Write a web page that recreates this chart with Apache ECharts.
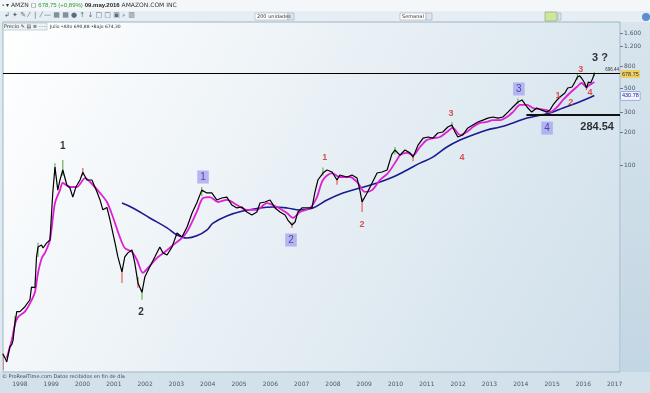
<!DOCTYPE html>
<html><head><meta charset="utf-8">
<script src="https://cdn.jsdelivr.net/npm/echarts@6/dist/echarts.min.js"></script>
<style>html,body{margin:0;padding:0;background:#fff;}#c{width:650px;height:393px;}</style>
</head><body><div id="c"></div>
<script>
// ---------- data (time in decimal years, price in USD) ----------
const yearTicks = [1998,1999,2000,2001,2002,2003,2004,2005,2006,2007,2008,2009,2010,2011,2012,2013,2014,2015,2016,2017];
const priceTicks = [100,200,300,500,800,1200,1600];

const weeklyClose = [
 [1997.45,1.9],[1997.52,1.75],[1997.58,1.6],[1997.68,2.2],[1997.74,2.3],[1997.78,2.5],[1997.84,3.6],[1997.90,4.6],
 [1998.00,4.6],[1998.16,5.1],[1998.32,5.9],[1998.37,7.7],[1998.48,7.6],[1998.53,14.5],[1998.58,17.9],[1998.69,18.6],
 [1998.74,17.5],[1998.85,19.4],[1998.96,20.7],[1999.05,55.6],[1999.12,96],[1999.21,59],[1999.28,73],[1999.37,90],
 [1999.50,65.7],[1999.60,61.7],[1999.69,51],[1999.79,63],[1999.92,73],[2000.01,86],[2000.14,73],[2000.30,73],
 [2000.46,57],[2000.56,48],[2000.65,39],[2000.78,41],[2000.88,31.5],[2001.04,19.4],[2001.13,14.5],[2001.26,10.6],
 [2001.35,14.5],[2001.45,15.8],[2001.58,16.8],[2001.67,12.8],[2001.77,8.4],[2001.90,6.9],[2001.99,9.5],[2002.15,11.8],
 [2002.31,14.5],[2002.47,17.9],[2002.57,15.8],[2002.70,15.1],[2002.86,17.9],[2003.02,24],[2003.18,22.1],[2003.34,27.2],
 [2003.50,36.5],[2003.65,45],[2003.81,59],[2003.97,55.6],[2004.13,55.6],[2004.29,48],[2004.45,50],[2004.61,51],
 [2004.77,43.2],[2004.93,40.6],[2005.09,41.4],[2005.25,37.3],[2005.41,35],[2005.57,37.3],[2005.67,45],[2005.83,46],
 [2005.99,48],[2006.15,40.6],[2006.31,37.3],[2006.47,35],[2006.56,31.5],[2006.69,28.4],[2006.79,30.2],[2006.88,37.3],
 [2007.01,40.6],[2007.17,40.6],[2007.33,40.6],[2007.42,55.6],[2007.52,73],[2007.68,84.5],[2007.81,90],[2007.97,86.3],
 [2008.13,73],[2008.22,81],[2008.45,77.7],[2008.61,81],[2008.77,76],[2008.86,59],[2008.93,46],[2009.09,55.6],
 [2009.25,68.5],[2009.41,84.5],[2009.57,86.3],[2009.73,90],[2009.88,125],[2009.98,137],[2010.14,123],[2010.30,137],
 [2010.46,129],[2010.56,118],[2010.72,152],[2010.88,176],[2011.04,180],[2011.19,176],[2011.35,196],[2011.51,200],
 [2011.67,222],[2011.80,232],[2011.90,200],[2011.99,180],[2012.15,188],[2012.31,218],[2012.47,232],[2012.63,247],
 [2012.79,257],[2012.95,268],[2013.11,274],[2013.27,268],[2013.43,274],[2013.59,304],[2013.75,338],[2013.91,376],
 [2014.04,392],[2014.20,338],[2014.35,304],[2014.51,331],[2014.67,317],[2014.84,304],[2014.93,317],[2015.03,353],
 [2015.16,392],[2015.25,417],[2015.41,454],[2015.50,504],[2015.64,515],[2015.73,572],[2015.81,635],[2015.88,650],
 [2015.94,622],[2016.04,560],[2016.10,504],[2016.16,572],[2016.23,560],[2016.29,609],[2016.35,678.75]
];

const shortAverage = [
 [1997.58,1.73],[1997.74,2.53],[1997.84,3.5],[1997.94,4.1],[1998.16,4.6],[1998.38,5.9],[1998.48,6.9],[1998.58,10.4],
 [1998.70,14.2],[1998.80,15.8],[1998.96,20.7],[1999.12,45],[1999.28,59],[1999.37,68.5],[1999.60,63],[1999.82,63],
 [2000.08,76],[2000.33,65.7],[2000.56,55.6],[2000.78,46],[2000.97,33.6],[2001.19,22.1],[2001.35,17.5],[2001.58,16.1],
 [2001.74,13.6],[2001.93,10.4],[2002.09,11.5],[2002.38,14.2],[2002.63,16.1],[2002.89,18.6],[2003.18,21.6],[2003.37,25.5],
 [2003.65,37.3],[2003.85,50],[2004.07,51],[2004.33,46],[2004.61,48],[2004.93,43.2],[2005.25,38.9],[2005.57,38.9],
 [2005.89,45],[2006.21,41.4],[2006.53,36.5],[2006.72,32.9],[2006.95,37.3],[2007.27,40.6],[2007.49,51],[2007.68,73],
 [2007.97,84.5],[2008.22,77.7],[2008.54,77.7],[2008.80,68.5],[2009.02,56.8],[2009.25,59],[2009.50,73],[2009.76,84.5],
 [2010.04,111],[2010.14,123],[2010.37,129],[2010.56,123],[2010.78,146],[2011.00,169],[2011.19,176],[2011.42,180],
 [2011.64,200],[2011.83,218],[2012.06,188],[2012.28,200],[2012.47,222],[2012.70,242],[2012.92,247],[2013.11,257],
 [2013.34,257],[2013.56,274],[2013.75,304],[2013.98,353],[2014.20,353],[2014.39,331],[2014.61,324],[2014.84,317],
 [2014.93,304],[2015.16,338],[2015.35,392],[2015.57,454],[2015.79,515],[2015.94,560],[2016.10,515],[2016.20,537],
 [2016.35,572]
];

const longAverage = [
 [2001.26,45],[2001.61,40.6],[2002.15,32.9],[2002.70,26.7],[2003.02,23],[2003.34,21.6],[2003.65,22.6],[2003.97,25.5],
 [2004.17,29.5],[2004.61,34.3],[2005.12,38],[2005.67,40.6],[2006.08,41.4],[2006.53,40.6],[2006.95,38.9],[2007.36,40.6],
 [2007.81,48],[2008.32,55.6],[2008.86,61.7],[2009.41,68.5],[2009.92,77.7],[2010.37,90],[2010.78,104],[2011.19,118],
 [2011.64,146],[2012.06,169],[2012.47,188],[2012.92,209],[2013.34,222],[2013.75,242],[2014.20,268],[2014.51,280],
 [2014.93,298],[2015.35,331],[2015.79,368],[2016.10,400],[2016.35,430.78]
];

// visible weekly high-low wicks: [time, low, high]
const upWicks = [
 [1997.84,3.3,4.2],[1998.58,14.5,19.5],[1999.12,80,104],[1999.37,80,111],[2001.90,5.9,7.4],[2003.81,52,63],
 [2007.68,80,95],[2009.98,125,146],[2011.80,215,246],[2013.91,360,405],[2015.81,600,690],[2016.35,650,700]
];
const downWicks = [
 [1997.46,1.35,1.9],[2000.01,80,94],[2001.26,8.4,11.5],[2001.77,7.6,9.5],[2006.69,26.7,30],[2008.93,37.3,50],
 [2008.13,66,76],[2010.56,108,122],[2014.84,285,310],[2016.10,482,520]
];

const lastClose = 678.75;
const lastLongAverage = 430.78;
const resistanceLevel = 696.44;
const supportLevel = 284.54;
const supportFrom = 2014.18;

const blackWaves = [[1999.37,149,'1'],[2001.87,4.5,'2']];
const boxWaves = [[2003.85,77.7,'1'],[2006.66,20.7,'2'],[2013.94,494,'3'],[2014.84,217,'4']];
const redWaves = [[2007.74,118,'1'],[2008.93,28.4,'2'],[2011.77,298,'3'],[2012.12,118,'4'],
                  [2015.19,426,'1'],[2015.60,368,'2'],[2015.92,750,'3'],[2016.21,454,'4']];
const notes = [[2016.53,944,'3 ?'],[2016.44,222,'284.54']];

// ---------- chart ----------
const X_MIN = 1997.46, X_MAX = 2017.17, P_MIN = 1.294, P_MAX = 2016;
const L = v => Math.log10(v);
const toLog = arr => arr.map(d => [d[0], L(d[1])]);
const fmtPrice = v => { const n = Math.round(Math.pow(10, v)); return n >= 1000 ? (Math.floor(n/1000) + '.' + String(n%1000).padStart(3,'0')) : String(n); };
const CLEAR = 'rgba(0,0,0,0)';

function labelSeries(items, label) {
  return {
    type: 'scatter', data: items.map(d => ({value: [d[0], L(d[1])], name: d[2]})),
    symbol: 'circle', symbolSize: 2, itemStyle: {color: CLEAR}, z: 10, silent: true,
    label: Object.assign({show: true, position: 'inside', formatter: p => p.name, fontFamily: 'Liberation Sans, Arial, sans-serif'}, label)
  };
}
function wickSeries(items, color) {
  return {
    type: 'custom', z: 2, silent: true, clip: true,
    data: items.map(d => [d[0], L(d[1]), L(d[2])]),
    encode: {x: 0, y: [1, 2]},
    renderItem: (params, api) => {
      const a = api.coord([api.value(0), api.value(1)]);
      const b = api.coord([api.value(0), api.value(2)]);
      return {type: 'line', shape: {x1: a[0], y1: a[1], x2: b[0], y2: b[1]}, style: {stroke: color, lineWidth: 1.2}};
    }
  };
}

const chart = echarts.init(document.getElementById('c'), null, {renderer: 'canvas'});
const option = {
  animation: false,
  backgroundColor: '#dfe9f0',
  grid: {
    left: 3, right: 30, top: 22, bottom: 21, show: true, borderColor: '#9fb5c5', borderWidth: 1,
    backgroundColor: {type: 'linear', x: 0, y: 0, x2: 1, y2: 1, colorStops: [{offset: 0, color: '#ffffff'}, {offset: 1, color: '#cfdfea'}]}
  },
  xAxis: {
    type: 'value', min: X_MIN, max: X_MAX,
    axisLine: {show: false}, axisTick: {show: false}, splitLine: {show: false},
    axisLabel: {customValues: yearTicks, formatter: v => String(Math.round(v)), fontSize: 6, color: '#4a5a68', margin: 9, fontFamily: 'DejaVu Sans, sans-serif'}
  },
  yAxis: {
    type: 'value', position: 'right', min: L(P_MIN), max: L(P_MAX),
    axisLine: {show: false}, splitLine: {show: false},
    axisTick: {show: true, customValues: priceTicks.map(L), length: 3, inside: false, lineStyle: {color: '#6a7a88'}},
    axisLabel: {customValues: priceTicks.map(L), formatter: fmtPrice, fontSize: 6, color: '#4a5a68', margin: 4, fontFamily: 'DejaVu Sans, sans-serif'}
  },
  graphic: [
    {type: 'rect', z: -10, shape: {x: 0, y: 0, width: 650, height: 11}, style: {fill: '#f4f7fa'}},
    {type: 'rect', z: -10, shape: {x: 0, y: 11, width: 650, height: 11}, style: {fill: '#e6eef4'}},
    {type: 'rect', z: -10, shape: {x: 621, y: 22, width: 29, height: 350},
      style: {fill: {type: 'linear', x: 0, y: 0, x2: 0, y2: 1, colorStops: [{offset: 0, color: '#d8e5ee'}, {offset: 1, color: '#c3d6e3'}]}}},
    {type: 'rect', z: -10, shape: {x: 0, y: 372, width: 650, height: 21}, style: {fill: '#d3e1eb'}},
    {type: 'text', z: 100, left: 2, top: 2, style: {
      text: '{g|▪} ▾ AMZN ▢ {p|678,75 (+0,89%)} {b|09.may.2016} AMAZON.COM INC', fontSize: 6, fill: '#333', fontFamily: 'DejaVu Sans, sans-serif',
      rich: {g: {fill: '#3a9a3a', fontSize: 6}, p: {fill: '#2e9a2e', fontSize: 6}, b: {fontWeight: 'bold', fontSize: 6, fill: '#222'}}}},
    {type: 'text', z: 100, left: 4, top: 12, style: {text: '↲ ✦ ✎ ⁄  |  ⁄ — ▦ ▦ ● ↑ ↓ □ □ ▣ ⌕ ▥', fontSize: 7, fill: '#5a6c7c', fontFamily: 'DejaVu Sans, sans-serif'}},
    {type: 'rect', z: 100, shape: {x: 255, y: 13, width: 33, height: 7}, style: {fill: '#fff', stroke: '#9aaab8', lineWidth: 0.6}},
    {type: 'rect', z: 100, shape: {x: 288, y: 13, width: 6, height: 7}, style: {fill: '#dde6ee', stroke: '#9aaab8', lineWidth: 0.6}},
    {type: 'text', z: 101, left: 257, top: 14, style: {text: '200 unidades', fontSize: 5, fill: '#333', fontFamily: 'DejaVu Sans, sans-serif'}},
    {type: 'rect', z: 100, shape: {x: 400, y: 13, width: 26, height: 7}, style: {fill: '#fff', stroke: '#9aaab8', lineWidth: 0.6}},
    {type: 'rect', z: 100, shape: {x: 426, y: 13, width: 6, height: 7}, style: {fill: '#dde6ee', stroke: '#9aaab8', lineWidth: 0.6}},
    {type: 'text', z: 101, left: 402, top: 14, style: {text: 'Semanal', fontSize: 5, fill: '#333', fontFamily: 'DejaVu Sans, sans-serif'}},
    {type: 'rect', z: 100, shape: {x: 545, y: 12, width: 12, height: 9}, style: {fill: '#cfe6a0', stroke: '#8aa070', lineWidth: 0.6}},
    {type: 'rect', z: 100, shape: {x: 558, y: 13, width: 3, height: 7}, style: {fill: '#dde6ee', stroke: '#9aaab8', lineWidth: 0.6}},
    {type: 'circle', z: 100, shape: {cx: 646, cy: 17, r: 4}, style: {fill: '#5b8fd0'}},
    {type: 'rect', z: 100, shape: {x: 3, y: 23, width: 44, height: 7}, style: {fill: '#eef3f7', stroke: '#aab8c4', lineWidth: 0.6}},
    {type: 'text', z: 101, left: 4, top: 24, style: {text: 'Precio ✎ ▤ ⊗ ·····', fontSize: 5, fill: '#333', fontFamily: 'DejaVu Sans, sans-serif'}},
    {type: 'text', z: 101, left: 50, top: 24, style: {text: 'Julio •Alto 690,88 •Bajo 674,30', fontSize: 4.5, fill: '#333', fontFamily: 'DejaVu Sans, sans-serif'}},
    {type: 'text', z: 101, left: 2, top: 374, style: {text: '© ProRealTime.com Datos recibidos en fin de día', fontSize: 5, fill: '#3a4a58', fontFamily: 'DejaVu Sans, sans-serif'}}
  ],
  series: [
    wickSeries(upWicks, '#6fae5a'),
    wickSeries(downWicks, '#e0605a'),
    {type: 'line', data: toLog(longAverage), showSymbol: false, smooth: 0.4, z: 3,
      lineStyle: {color: '#1b1b8e', width: 1.6},
      markLine: {silent: true, symbol: 'none', data: [{yAxis: L(lastLongAverage), lineStyle: {color: CLEAR, width: 0},
        label: {show: true, position: 'end', distance: 1, formatter: '430.78', fontSize: 5.5, color: '#1b1b9e',
          backgroundColor: '#eef3ff', borderColor: '#6a7ad0', borderWidth: 0.5, padding: [1, 1]}}]}},
    {type: 'line', data: toLog(shortAverage), showSymbol: false, smooth: 0.3, z: 4,
      lineStyle: {color: '#e01ed8', width: 1.8}},
    {type: 'line', data: toLog(weeklyClose), showSymbol: false, z: 5,
      lineStyle: {color: '#000000', width: 1.2},
      markLine: {silent: true, symbol: 'none', animation: false, data: [
        {yAxis: L(resistanceLevel), lineStyle: {color: '#000', width: 1.2, type: 'solid'},
          label: {show: true, position: 'insideEndTop', distance: 1, formatter: '696.44', fontSize: 4.5, color: '#333'}},
        [{coord: [supportFrom, L(supportLevel)], lineStyle: {color: '#111', width: 2, type: 'solid'}, label: {show: false}},
         {coord: [X_MAX, L(supportLevel)]}],
        {yAxis: L(lastClose), lineStyle: {color: CLEAR, width: 0},
          label: {show: true, position: 'end', distance: 1, formatter: '678.75', fontSize: 5.5, color: '#333',
            backgroundColor: '#f0d060', padding: [1, 1]}}
      ]}},
    labelSeries(blackWaves, {fontSize: 10, color: '#000', fontWeight: 'bold'}),
    labelSeries(boxWaves, {fontSize: 10, color: '#2a2a9a', backgroundColor: '#aaa5f0', padding: [2, 3, 1, 3]}),
    labelSeries(redWaves, {fontSize: 9, color: '#d42828', fontWeight: 'bold'}),
    labelSeries(notes, {fontSize: 11, color: '#000', fontWeight: 'bold'})
  ]
};
chart.setOption(option);
</script></body></html>
